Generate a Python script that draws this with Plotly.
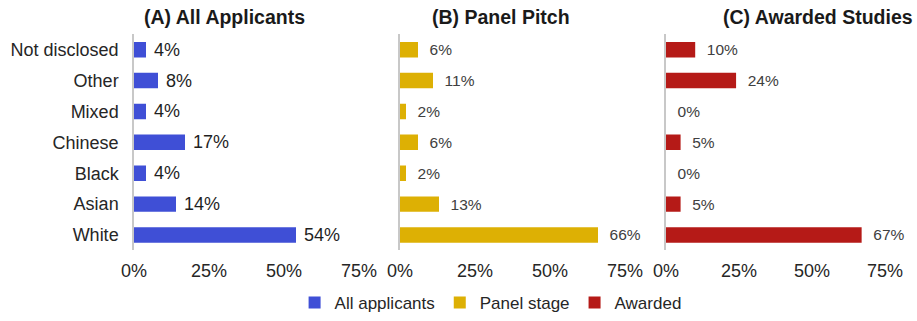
import plotly.graph_objects as go

categories = ["Not disclosed", "Other", "Mixed", "Chinese", "Black", "Asian", "White"]
all_applicants = [4, 8, 4, 17, 4, 14, 54]
panel_stage = [6, 11, 2, 6, 2, 13, 66]
awarded = [10, 24, 0, 5, 0, 5, 67]
tick_vals = [0, 25, 50, 75]
tick_text = ["0%", "25%", "50%", "75%"]
titles = ["(A) All Applicants", "(B) Panel Pitch", "(C) Awarded Studies"]
series_names = ["All applicants", "Panel stage", "Awarded"]

W, H = 917, 321
FONT = "Liberation Sans, Arial, sans-serif"
colors = ["#3F4FD6", "#DDB004", "#B51A17"]
label_sizes = [18, 15.5, 15.5]
label_colors = ["#1f1f1f", "#404040", "#404040"]
pads = ["\u00a0", "\u00a0\u00a0", "\u00a0\u00a0"]

# plot-area pixel extents of each panel
xdom_px = [(134, 359), (400, 625), (666, 885)]
ytop, ybot = 35, 256
title_x_px = [224, 501, 818]

fig = go.Figure()
series = [all_applicants, panel_stage, awarded]
for i, (vals, name) in enumerate(zip(series, series_names)):
    sfx = "" if i == 0 else str(i + 1)
    fig.add_trace(go.Bar(
        y=categories, x=vals, orientation="h", name=name,
        marker=dict(color=colors[i], line=dict(width=0)),
        width=0.5,
        text=[pads[i] + f"{v}%" for v in vals],
        textposition="outside", cliponaxis=False, constraintext="none",
        textfont=dict(size=label_sizes[i], color=label_colors[i], family=FONT),
        xaxis="x" + sfx, yaxis="y" + sfx,
    ))

layout = dict(
    width=W, height=H,
    margin=dict(l=0, r=0, t=0, b=0),
    paper_bgcolor="white", plot_bgcolor="white",
    font=dict(family=FONT, size=18, color="#262626"),
    showlegend=True,
    legend=dict(orientation="h", x=0.535, xanchor="center", y=(H - 310) / H, yanchor="middle",
                font=dict(size=17, color="#262626"), itemwidth=30, traceorder="normal",
                bgcolor="rgba(0,0,0,0)"),
    bargap=0.5,
    uniformtext=dict(mode=False),
)
ydomain = [1 - ybot / H, 1 - ytop / H]
for i in range(3):
    sfx = "" if i == 0 else str(i + 1)
    layout["xaxis" + sfx] = dict(
        domain=[xdom_px[i][0] / W, xdom_px[i][1] / W],
        range=[0, 75], tickvals=tick_vals, ticktext=tick_text,
        showgrid=False, zeroline=False, showline=False, automargin=False,
        tickfont=dict(size=18, color="#262626"), ticks="", ticklabelstandoff=8,
        anchor="y" + sfx, fixedrange=True,
    )
    layout["yaxis" + sfx] = dict(
        domain=ydomain, autorange="reversed", automargin=False,
        showgrid=False, zeroline=False,
        showline=True, linecolor="#C8C8C8", linewidth=1.5,
        showticklabels=(i == 0), ticks="", ticklabelstandoff=10,
        tickfont=dict(size=18, color="#262626"),
        anchor="x" + sfx, categoryorder="array", categoryarray=categories,
    )
fig.update_layout(**layout)

for i, t in enumerate(titles):
    fig.add_annotation(text=f"<b>{t}</b>", xref="paper", yref="paper",
                       x=title_x_px[i] / W, y=1 - 17 / H, xanchor="center", yanchor="middle",
                       showarrow=False, font=dict(size=19.5, color="#1a1a1a", family=FONT))

fig.write_html("out.html")
